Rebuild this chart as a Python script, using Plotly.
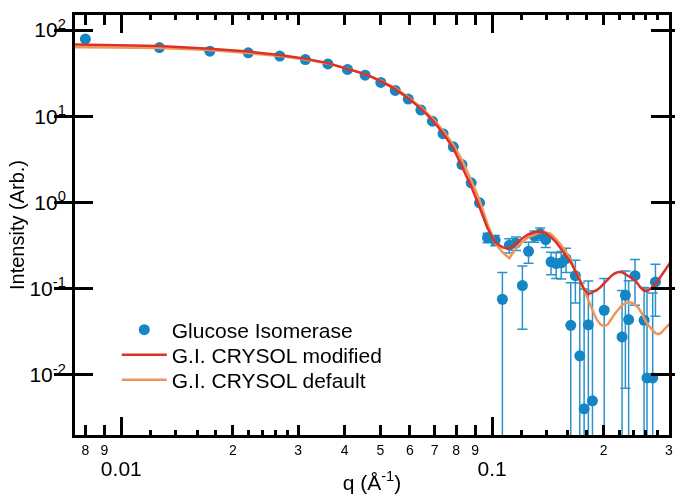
import plotly.graph_objects as go

# ---------------- data ----------------
q_data = [0.008, 0.01267, 0.01733, 0.0220, 0.02676, 0.03136, 0.03607, 0.04074, 0.04545, 0.05011,
          0.05481, 0.0594, 0.06425, 0.06902, 0.07375, 0.07858, 0.08294, 0.08782, 0.09251, 0.0972,
          0.1019, 0.1066, 0.1113, 0.116, 0.1207, 0.1254, 0.1301, 0.1348, 0.1395, 0.1442,
          0.1489, 0.1536, 0.1583, 0.163, 0.1677, 0.1724, 0.1771, 0.1818, 0.1865, 0.2006,
          0.2241, 0.2288, 0.2335, 0.2429, 0.257, 0.2617, 0.2711, 0.2758]
i_data = [78.4, 62.5, 56.9, 54.4, 49.8, 45.4, 40.4, 34.9, 29.9, 24.7,
          19.9, 15.8, 11.8, 8.77, 6.28, 4.42, 2.75, 1.69, 0.99, 0.391,
          0.365, 0.0755, 0.32, 0.337, 0.109, 0.272, 0.407, 0.435, 0.37, 0.205,
          0.196, 0.20, 0.224, 0.0377, 0.1415, 0.0167, 0.00405, 0.0382, 0.00502, 0.0563,
          0.0276, 0.084, 0.0439, 0.1415, 0.0431, 0.00923, 0.00923, 0.12]
err_data = [0.8, 0.6, 0.5, 0.5, 0.4, 0.4, 0.3, 0.3, 0.25, 0.2,
            0.15, 0.12, 0.1, 0.08, 0.06, 0.05, 0.04, 0.03, 0.03, 0.05,
            0.05, 0.079, 0.06, 0.06, 0.075, 0.075, 0.06, 0.07, 0.07, 0.06,
            0.065, 0.07, 0.07, 0.08, 0.073, 0.1, 0.095, 0.085, 0.09, 0.075,
            0.068, 0.077, 0.08, 0.077, 0.06, 0.09, 0.08, 0.072]

q_model = [0.007, 0.008, 0.01267, 0.01733, 0.02201, 0.02676, 0.03136, 0.03607, 0.04074, 0.04545,
           0.05011, 0.05481, 0.0594, 0.06425, 0.06902, 0.07375, 0.07858, 0.08294, 0.08782, 0.09251,
           0.0972, 0.1019, 0.1066, 0.1113, 0.116, 0.1207, 0.1254, 0.1301, 0.1348, 0.1395,
           0.1442, 0.1489, 0.1536, 0.1583, 0.163, 0.1677, 0.1724, 0.1771, 0.1818, 0.1865,
           0.1912, 0.1959, 0.2006, 0.2053, 0.21, 0.2147, 0.2194, 0.2241, 0.2288, 0.2335,
           0.2382, 0.2429, 0.2476, 0.2523, 0.257, 0.2617, 0.2664, 0.2711, 0.2758, 0.2805,
           0.2852, 0.2899, 0.2946, 0.2993, 0.304]
i_modified = [68.1, 67.7, 65.1, 60.8, 56.2, 51.2, 46.6, 41.3, 35.7, 30.8,
              25.5, 20.6, 16.2, 12.25, 9.01, 6.37, 4.26, 2.64, 1.546, 0.882,
              0.503, 0.346, 0.303, 0.291, 0.337, 0.385, 0.429, 0.452, 0.458, 0.440,
              0.396, 0.346, 0.287, 0.238, 0.203, 0.1596, 0.1222, 0.0987, 0.0863, 0.0911,
              0.0961, 0.1041, 0.1158, 0.1289, 0.1415, 0.1513, 0.1566, 0.1554, 0.1473, 0.1396,
              0.1323, 0.1255, 0.1128, 0.1013, 0.0948, 0.0935, 0.0987, 0.1069, 0.1128, 0.1255,
              0.1396, 0.1554, 0.1729, 0.1873, 0.2084]
i_default = [63.3, 63.3, 61.7, 58.5, 54.0, 49.8, 45.4, 40.8, 35.7, 30.8,
             25.9, 21.2, 16.66, 12.75, 9.51, 6.81, 4.68, 3.10, 1.814, 1.063,
             0.560, 0.337, 0.265, 0.226, 0.295, 0.351, 0.396, 0.423, 0.452, 0.452,
             0.429, 0.375, 0.320, 0.265, 0.214, 0.164, 0.1289, 0.0961, 0.0735, 0.0548,
             0.0443, 0.0387, 0.0367, 0.0387, 0.0455, 0.0520, 0.0578, 0.0644, 0.0679, 0.0697,
             0.0688, 0.0652, 0.0610, 0.0534, 0.0455, 0.0395, 0.0358, 0.0326, 0.0305, 0.0297,
             0.0305, 0.0330, 0.0358, 0.0377, 0.0409]

# tick definitions
x_major_vals = [0.01, 0.1]
x_major_text = ["0.01", "0.1"]
x_lab_vals = [0.008, 0.009, 0.02, 0.03, 0.04, 0.05, 0.06, 0.07, 0.08, 0.09, 0.2, 0.3]
x_lab_text = ["8", "9", "2", "3", "4", "5", "6", "7", "8", "9", "2", "3"]
x_minor_vals = [0.012, 0.014, 0.016, 0.018, 0.022, 0.024, 0.026, 0.028,
                0.12, 0.14, 0.16, 0.18, 0.22, 0.24, 0.26, 0.28]
y_tick_vals = [0.01, 0.1, 1, 10, 100]
y_tick_text = ["10<sup>-2</sup>", "10<sup>-1</sup>", "10<sup>0</sup>", "10<sup>1</sup>", "10<sup>2</sup>"]

X_RANGE = [-2.1249, -0.5229]
Y_RANGE = [-2.696, 2.174]

BLUE = "#1486c4"
RED = "#dc3127"
ORANGE = "#f0965a"
FONT = "Liberation Sans, Arial, sans-serif"

fig = go.Figure()

fig.add_trace(go.Scatter(
    x=q_data, y=i_data, mode="markers", name="Glucose Isomerase",
    marker=dict(color=BLUE, size=11),
    error_y=dict(type="data", array=err_data, visible=True, color="#2b93c9",
                 thickness=1.5, width=5),
    legend="legend",
))
fig.add_trace(go.Scatter(
    x=q_model, y=i_default, mode="lines", name="G.I. CRYSOL default",
    line=dict(color=ORANGE, width=2.5), legend="legend3",
))
fig.add_trace(go.Scatter(
    x=q_model, y=i_modified, mode="lines", name="G.I. CRYSOL modified",
    line=dict(color=RED, width=2.5), legend="legend2",
))
# invisible helper trace so the secondary (major-tick) x axis is drawn
fig.add_trace(go.Scatter(
    x=q_data, y=i_data, xaxis="x2", mode="markers", opacity=0,
    showlegend=False, hoverinfo="skip",
))

axis_common = dict(showline=True, linecolor="black", linewidth=3, mirror="allticks",
                   ticks="inside", tickcolor="black", showgrid=False, zeroline=False)

PLOT_L, PLOT_T, PLOT_B, PLOT_H, PLOT_W = 75, 15, 435, 420, 597


def leg(center_px):
    return dict(x=(117 - PLOT_L) / PLOT_W, y=(PLOT_B - center_px) / PLOT_H,
                xanchor="left", yanchor="middle", bgcolor="rgba(0,0,0,0)",
                font=dict(size=21, family=FONT), itemwidth=45)


fig.update_layout(
    width=675, height=495,
    margin=dict(l=75, r=3, t=15, b=60),
    paper_bgcolor="white", plot_bgcolor="white",
    font=dict(family=FONT, color="black"),
    showlegend=True,
    legend=leg(330),
    legend2=leg(355),
    legend3=leg(380),
    xaxis=dict(type="log", range=X_RANGE, tickmode="array",
               tickvals=x_lab_vals, ticktext=x_lab_text, ticklen=10, tickwidth=3,
               tickfont=dict(size=14),
               minor=dict(tickmode="array", tickvals=x_minor_vals, ticklen=5,
                          tickwidth=3, ticks="inside", tickcolor="black", showgrid=False),
               title=dict(text="q (Å<sup>-1</sup>)", font=dict(size=21), standoff=19),
               **axis_common),
    xaxis2=dict(type="log", range=X_RANGE, overlaying="x", anchor="y", side="bottom",
                tickmode="array", tickvals=x_major_vals, ticktext=x_major_text,
                ticklen=18, tickwidth=3, tickfont=dict(size=21),
                ticklabelstandoff=13, **axis_common),
    yaxis=dict(type="log", range=Y_RANGE, tickmode="array",
               tickvals=y_tick_vals, ticktext=y_tick_text, ticklen=18, tickwidth=3,
               tickfont=dict(size=21), ticklabelstandoff=2,
               title=dict(text="Intensity (Arb.)", font=dict(size=20), standoff=0),
               **axis_common),
)

fig.write_html("out.html")
